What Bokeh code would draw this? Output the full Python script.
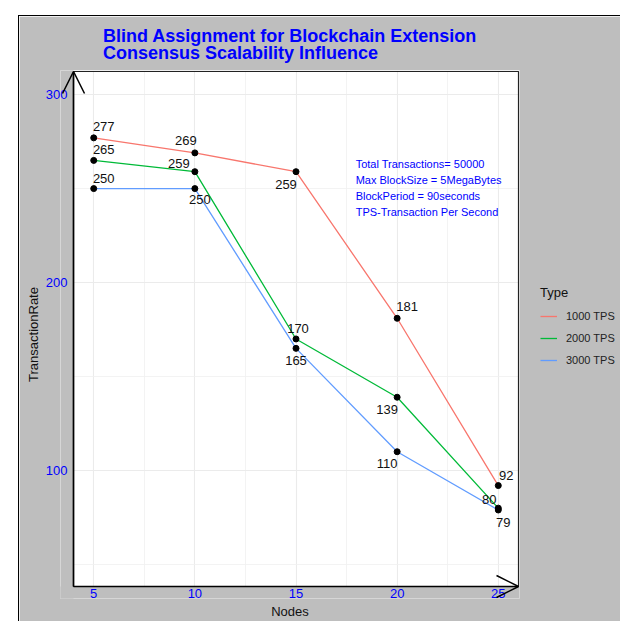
from bokeh.plotting import figure
from bokeh.models import (ColumnDataSource, Range1d, SingleIntervalTicker, Legend, LegendItem,
                          Label, LabelSet, Arrow, OpenHead)
from bokeh.core.properties import value
from bokeh.embed import file_html
from bokeh.resources import INLINE

# ---- data ----
nodes = [5, 10, 15, 20, 25]
tps_1000 = [277, 269, 259, 181, 92]
tps_2000 = [265, 259, 170, 139, 80]
tps_3000 = [250, 250, 165, 110, 79]
series_names = ["1000 TPS", "2000 TPS", "3000 TPS"]
series_colors = ["#F8766D", "#00BA38", "#619CFF"]

# value-label pixel offsets (right, up) for each point
off_1000 = [(10, 11), (-9, 12), (-10, -13), (10, 12), (8, 10)]
off_2000 = [(10, 11), (-16, 8), (2, 10), (-10, -12), (-9, 9)]
off_3000 = [(10, 10), (5, -11), (0, -12), (-10, -12), (5, -12)]

note_lines = ["Total Transactions= 50000", "Max BlockSize = 5MegaBytes",
              "BlockPeriod = 90seconds", "TPS-Transaction Per Second"]

# panel extents (data units) and the slightly larger drawing frame
X0, X1 = 4.0, 26.0
Y0, Y1 = 38.3, 312.3
XR = (3.357, 26.049)
YR = (31.92, 312.83)

FONT = "Liberation Sans"
GREY = "#bebebe"

p = figure(frame_width=459, frame_height=528, output_backend="svg", toolbar_location=None,
           x_range=Range1d(*XR), y_range=Range1d(*YR),
           min_border_left=41, min_border_right=100, min_border_top=53, min_border_bottom=23)
p.styles = {"margin-left": "18px", "margin-top": "15px",
            "border-left": "1px solid black", "border-top": "1px solid black"}

p.border_fill_color = GREY
p.background_fill_color = "white"
p.outline_line_color = None

p.title.text = "Blind Assignment for Blockchain Extension\nConsensus Scalability Influence"
p.title.align = "center"
p.title.text_color = "blue"
p.title.text_font = FONT
p.title.text_font_size = "18px"
p.title.text_font_style = "bold"
p.title.text_line_height = 0.85
p.title.standoff = 15

p.xaxis.ticker = SingleIntervalTicker(interval=5, num_minor_ticks=2)
p.yaxis.ticker = SingleIntervalTicker(interval=100, num_minor_ticks=2)
for ax in (p.xaxis, p.yaxis):
    ax.axis_line_color = None
    ax.major_tick_out = 0
    ax.major_tick_in = 0
    ax.minor_tick_out = 0
    ax.minor_tick_in = 0
    ax.major_label_text_color = "blue"
    ax.major_label_text_font = FONT
    ax.major_label_text_font_size = "13px"
    ax.axis_label_text_font = FONT
    ax.axis_label_text_font_size = "13px"
    ax.axis_label_text_font_style = "normal"
    ax.axis_label_text_color = "#111111"
p.xaxis.axis_label = "Nodes"
p.yaxis.axis_label = "TransactionRate"
p.xaxis.major_label_standoff = -10
p.xaxis.axis_label_standoff = 3
p.yaxis.major_label_standoff = -7
p.yaxis.axis_label_standoff = 2

p.xgrid.grid_line_color = "#ebebeb"
p.ygrid.grid_line_color = "#ebebeb"
p.xgrid.grid_line_width = 1.1
p.ygrid.grid_line_width = 1.1
p.xgrid.minor_grid_line_color = "#f0f0f0"
p.ygrid.minor_grid_line_color = "#f0f0f0"
p.xgrid.minor_grid_line_width = 0.8
p.ygrid.minor_grid_line_width = 0.8

# grey strips outside the white panel (inside the drawing frame)
p.quad(left=[XR[0] - 1], right=[X0], bottom=[YR[0] - 10], top=[YR[1] + 10],
       fill_color=GREY, fill_alpha=1, line_color=None)
p.quad(left=[XR[0] - 1], right=[XR[1] + 1], bottom=[YR[0] - 10], top=[Y0],
       fill_color=GREY, fill_alpha=1, line_color=None)
# panel outline
p.quad(left=[X0], right=[X1], bottom=[Y0], top=[Y1], fill_alpha=0,
       line_color="#222222", line_width=1.2, level="overlay")

items = []
xs_all, ys_all, txt_all, dx_all, dy_all = [], [], [], [], []
for name, col, vals, offs in zip(series_names, series_colors,
                                 [tps_1000, tps_2000, tps_3000],
                                 [off_1000, off_2000, off_3000]):
    r = p.line(nodes, vals, line_color=col, line_width=1.3)
    items.append(LegendItem(label=name, renderers=[r]))
    xs_all += nodes
    ys_all += vals
    txt_all += [str(v) for v in vals]
    dx_all += [o[0] for o in offs]
    dy_all += [o[1] for o in offs]

for vals in (tps_1000, tps_2000, tps_3000):
    p.scatter(nodes, vals, size=6, color="black")

src = ColumnDataSource(dict(x=xs_all, y=ys_all, t=txt_all, dx=dx_all, dy=dy_all))
labels = LabelSet(x="x", y="y", text="t", x_offset="dx", y_offset="dy", source=src,
                  text_align="center", text_baseline="middle", text_font=value(FONT),
                  text_font_size=value("13px"), text_color="#111111")
p.add_layout(labels)

note = Label(x=17.95, y=266.5, text="\n".join(note_lines), text_baseline="top",
             text_align="left", text_font=FONT, text_font_size="11px",
             text_color="blue", text_line_height=1.35)
p.add_layout(note)

# axis lines with open arrow heads
p.add_layout(Arrow(end=OpenHead(size=22, line_width=1.5, line_color="black"),
                   x_start=X0, y_start=Y0, x_end=X0, y_end=Y1,
                   line_color="black", line_width=1.6, level="overlay"))
p.add_layout(Arrow(end=OpenHead(size=22, line_width=1.5, line_color="black"),
                   x_start=X0, y_start=Y0, x_end=X1, y_end=Y0,
                   line_color="black", line_width=1.6, level="overlay"))

legend = Legend(items=items, location=(16, 223), title="Type",
                title_text_font=FONT, title_text_font_size="13px", title_text_color="#111111",
                title_text_font_style="normal", title_standoff=6,
                label_text_font=FONT, label_text_font_size="11px", label_text_color="#222222",
                glyph_width=17, glyph_height=20, label_height=20, label_standoff=9,
                spacing=2, padding=5, margin=0,
                background_fill_alpha=0, border_line_alpha=0)
p.add_layout(legend, "right")

open("out.html", "w").write(file_html(p, INLINE))
